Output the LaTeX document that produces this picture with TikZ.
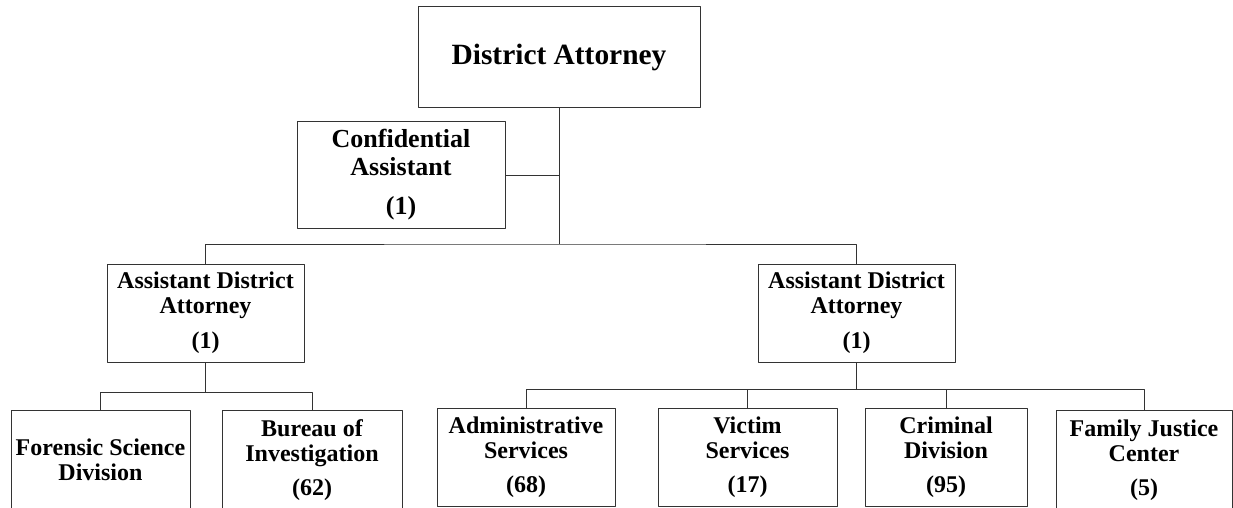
\documentclass[tikz,border=0pt]{standalone}
\usepackage{fontspec}
\setmainfont{Liberation Serif}
\begin{document}
\begin{tikzpicture}[x=1pt,y=-1pt, line join=round,
	box/.style={draw=black!80, line width=1pt, inner sep=0pt, align=center, minimum height=98,
		font=\bfseries\fontsize{24}{25}\selectfont},
	link/.style={draw=black!80, line width=0.9pt}]
	\useasboundingbox (0,0) rectangle (1233,508);
	\clip (0,0) rectangle (1233,508);
	% Leitung
	\node[box, minimum width=282, minimum height=101, font=\bfseries\fontsize{29.4}{32}\selectfont] (da) at (559,57.5) {District Attorney};
	\node[box, minimum width=208, minimum height=106, font=\bfseries\fontsize{26}{28}\selectfont] (ca) at (401,175) {Confidential\\Assistant\\[11pt](1)};
	\node[box, minimum width=197] (adaL) at (205.5,313) {Assistant District\\Attorney\\[10pt](1)};
	\node[box, minimum width=197] (adaR) at (856.5,313) {Assistant District\\Attorney\\[10pt](1)};
	% Abteilungen
	\node[box, minimum width=179, minimum height=100] (fsd) at (100.5,460) {Forensic Science\\Division};
	\node[box, minimum width=180, minimum height=100] (boi) at (312,460) {Bureau of\\Investigation\\[9pt](62)};
	\node[box, minimum width=178] (adm) at (526,457) {Administrative\\Services\\[9pt](68)};
	\node[box, minimum width=179] (vic) at (747.5,457) {Victim\\Services\\[9pt](17)};
	\node[box, minimum width=162] (crim) at (946,457) {Criminal\\Division\\[9pt](95)};
	\node[box, minimum width=176, minimum height=100] (fjc) at (1144,460) {Family Justice\\Center\\[9pt](5)};
	% Verbindungen
	\coordinate (busA) at (559,244);
	\draw[link] (da.south) -- (busA);
	\draw[link] (ca.east) -- (ca.east -| da.south);
	\draw[link] (adaL.north) |- (busA) -| (adaR.north);
	\draw[link] (adaL.south) -- ++(0,30) coordinate (busL);
	\draw[link] (fsd.north) |- (busL) -| (boi.north);
	\draw[link] (adaR.south) -- ++(0,27) coordinate (busR);
	\draw[link] (adm.north) |- (busR) -| (fjc.north);
	\foreach \n in {vic,crim} \draw[link] (\n.north) -- (\n.north |- busR);
\end{tikzpicture}
\end{document}
